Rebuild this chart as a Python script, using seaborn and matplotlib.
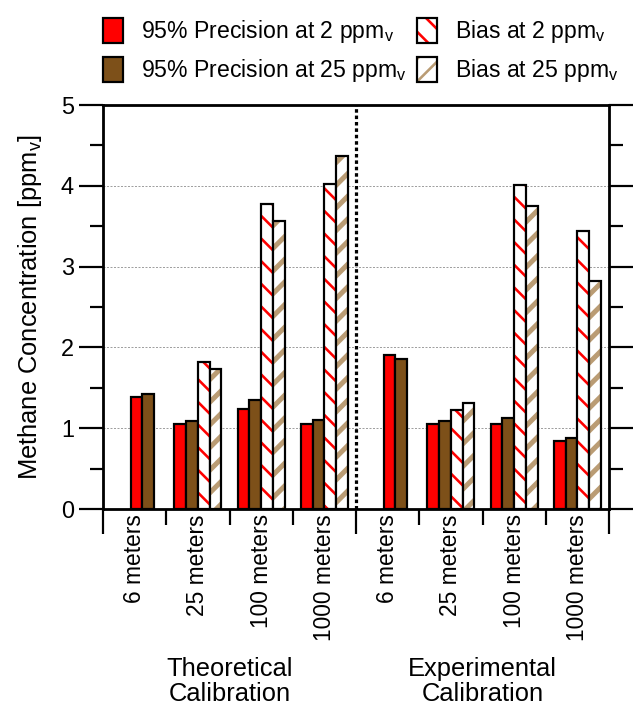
import numpy as np
import pandas as pd
import matplotlib
matplotlib.use("Agg")
import matplotlib.pyplot as plt
import seaborn as sns
from matplotlib.patches import Patch
from matplotlib.ticker import MultipleLocator
import matplotlib.colors as mcolors

# ---------------- data ----------------
calibrations = ["Theoretical\nCalibration", "Experimental\nCalibration"]
distances = ["6 meters", "25 meters", "100 meters", "1000 meters"]
series_labels = ["95% Precision at 2 ppm$_{v}$", "95% Precision at 25 ppm$_{v}$",
                 "Bias at 2 ppm$_{v}$", "Bias at 25 ppm$_{v}$"]

prec2_theo = [1.38, 1.05, 1.24, 1.05]
prec25_theo = [1.42, 1.09, 1.35, 1.10]
bias2_theo = [np.nan, 1.82, 3.78, 4.02]
bias25_theo = [np.nan, 1.73, 3.56, 4.37]

prec2_exp = [1.91, 1.05, 1.05, 0.84]
prec25_exp = [1.86, 1.09, 1.13, 0.88]
bias2_exp = [np.nan, 1.23, 4.01, 3.44]
bias25_exp = [np.nan, 1.31, 3.75, 2.82]

y_ticks = [0, 1, 2, 3, 4, 5]

# ---------------- style ----------------
face_colors = ["#FF0000", "#7D5019", "#FFFFFF", "#FFFFFF"]
hatch_colors = [None, None, "#FF0000", "#BA9C74"]
hatches = [None, None, "\\\\", "//"]

DPI = 136
def pt(px):
    return px * 72.0 / DPI

sns.set_style("ticks")
plt.rcParams["font.family"] = ["Liberation Sans", "DejaVu Sans"]
plt.rcParams["mathtext.default"] = "regular"
plt.rcParams["hatch.linewidth"] = pt(2.6)
for k in ["text.color", "axes.labelcolor", "xtick.color", "ytick.color", "axes.edgecolor"]:
    plt.rcParams[k] = "black"

# bar layout (fraction of a category slot)
quad_off = [-0.2775, -0.0925, 0.0925, 0.2775]
pair_off = [0.0275, 0.2125]

groups = [
    (prec2_theo, prec25_theo, bias2_theo, bias25_theo),
    (prec2_exp, prec25_exp, bias2_exp, bias25_exp),
]
rows = []
for g, vals in enumerate(groups):
    for i in range(len(distances)):
        center = g * len(distances) + i + 0.5
        has_bias = not np.isnan(vals[2][i])
        offs = quad_off if has_bias else pair_off
        for s in range(4):
            v = vals[s][i]
            if np.isnan(v):
                continue
            rows.append({"pos": round(center + offs[s], 4), "value": v,
                         "series": series_labels[s]})
df = pd.DataFrame(rows)

fig = plt.figure(figsize=(633 / DPI, 706 / DPI), dpi=DPI)
W, H = 633.0, 706.0
ax = fig.add_axes([103 / W, 1 - 509 / H, (609 - 103) / W, (509 - 105) / H])

sns.barplot(data=df, x="pos", y="value", hue="series", hue_order=series_labels,
            palette=dict(zip(series_labels, face_colors)), native_scale=True,
            dodge=False, width=1.0, errorbar=None, saturation=1,
            edgecolor="black", linewidth=pt(2.2), legend=False, ax=ax, zorder=3)

for s, cont in enumerate(ax.containers):
    if hatches[s] is None:
        continue
    for p in cont.patches:
        p.set_hatch(hatches[s])
        p._hatch_color = mcolors.to_rgba(hatch_colors[s])
        if hasattr(p, "set_hatch_linewidth"):
            p.set_hatch_linewidth(pt(2.6) if s == 2 else pt(5.0))

# axes limits / ticks
n_cat = len(calibrations) * len(distances)
ax.set_xlim(0, n_cat)
ax.set_ylim(0, 5)
ax.set_yticks(y_ticks)
ax.yaxis.set_minor_locator(MultipleLocator(0.5))
ax.tick_params(axis="y", which="major", length=pt(24), width=pt(2.2), direction="out",
               labelsize=pt(23.5), pad=pt(5), right=True, left=True, labelright=False)
ax.tick_params(axis="y", which="minor", length=pt(13.5), width=pt(2.2), direction="out",
               right=True, left=True)

centers = np.arange(n_cat) + 0.5
ax.set_xticks(centers)
ax.set_xticklabels(distances * len(calibrations), rotation=90, fontsize=pt(22.8))
ax.tick_params(axis="x", which="major", length=0, pad=pt(5))
ax.xaxis.set_minor_locator(plt.NullLocator())

sec = ax.secondary_xaxis("bottom")
sec.set_xticks([0, 4, 8])
sec.set_xticklabels([])
sec.set_xticks([1, 2, 3, 5, 6, 7], minor=True)
sec.tick_params(which="major", length=pt(25), width=pt(2.2), direction="out", color="black")
sec.tick_params(which="minor", length=pt(16), width=pt(2.2), direction="out", color="black")
sec.spines["bottom"].set_visible(False)

for sp in ["left", "right", "top", "bottom"]:
    ax.spines[sp].set_visible(True)
    ax.spines[sp].set_linewidth(pt(2.8))
    ax.spines[sp].set_color("black")

ax.set_xlabel("")
ax.set_ylabel("Methane Concentration [ppm$_{v}$]", fontsize=pt(25.5))
ax.yaxis.set_label_coords(-0.117, 0.5)

ax.yaxis.grid(True, color="#A0A0A0", linestyle=(0, (2, 1.5)), linewidth=pt(1.0))
ax.set_axisbelow(True)

ax.axvline(4, color="black", linestyle=(0, (1.1, 0.9)), linewidth=pt(3.2), zorder=4)

for g, lab in enumerate(calibrations):
    ax.annotate(lab, xy=(g * 4 + 2, 0), xycoords=("data", "axes fraction"),
                xytext=(0, -pt(148)), textcoords="offset points",
                ha="center", va="top", fontsize=pt(25.5), linespacing=1.05)

# legend
handles = []
for s in range(4):
    h = Patch(facecolor=face_colors[s], edgecolor="black", linewidth=pt(2.2),
              hatch=hatches[s])
    if hatch_colors[s] is not None:
        h._hatch_color = mcolors.to_rgba(hatch_colors[s])
    handles.append(h)
fig.legend(handles, series_labels,
           ncol=2, loc="upper left", bbox_to_anchor=(103 / W, 1 - 18 / H),
           frameon=False, fontsize=pt(23), handlelength=0.87, handleheight=1.3,
           handletextpad=0.8, columnspacing=0.4, labelspacing=0.5,
           borderpad=0, borderaxespad=0)

fig.savefig("out.png", dpi=DPI)
